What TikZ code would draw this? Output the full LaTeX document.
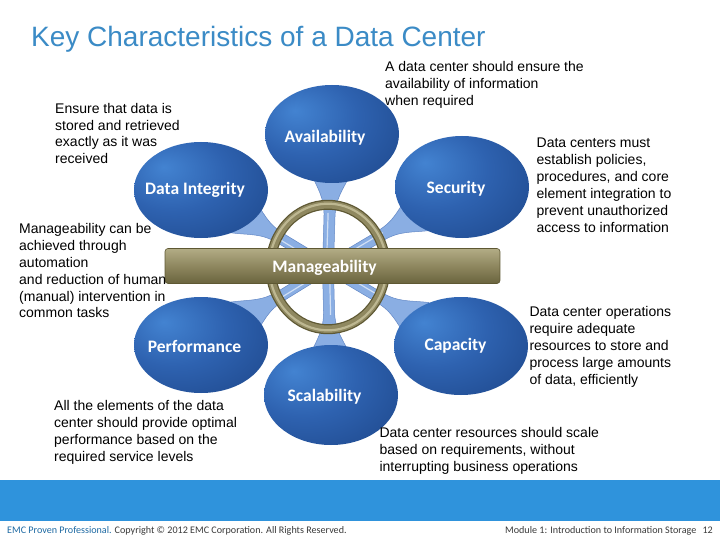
\documentclass[tikz,border=0pt]{standalone}
\usepackage{fontspec}
\setmainfont{Liberation Sans}
\newfontfamily\calib{Carlito}
\usetikzlibrary{shapes.geometric,calc}
\definecolor{titleblue}{HTML}{3B8BC6}
\definecolor{barblue}{HTML}{2F93DC}
\definecolor{emcblue}{HTML}{1E6AA3}
\definecolor{footgray}{HTML}{3A3A3A}
\definecolor{spokefill}{HTML}{8AAEE3}
\definecolor{spokeline}{HTML}{6388C6}
\definecolor{ringdark}{HTML}{5E5833}
\definecolor{ringmid}{HTML}{8F8860}
\definecolor{ringlight}{HTML}{BDB791}
\definecolor{bartop}{HTML}{B2AC85}
\definecolor{barmid}{HTML}{8E875F}
\definecolor{barbot}{HTML}{6A643E}
\definecolor{blA}{HTML}{4383D1}
\definecolor{blB}{HTML}{2E62B0}
\definecolor{blC}{HTML}{1D4689}
\definecolor{blD}{HTML}{153571}
\pgfdeclareradialshading{bubshade}{\pgfpoint{-14bp}{12bp}}{color(0bp)=(blA); color(20bp)=(blB); color(45bp)=(blC); color(62bp)=(blD); color(80bp)=(blD)}
\tikzset{
  bubble/.style={ellipse, shading=bubshade, minimum width=134pt, minimum height=98pt, inner sep=0pt},
  bublabel/.style={font=\calib\bfseries\fontsize{17.5}{20}\selectfont, text=white, inner sep=0pt},
  desc/.style={font=\fontsize{14}{16.9}\selectfont, align=left, anchor=north west, inner sep=0pt, text=black},
  spoke/.style={fill=spokefill, draw=spokeline, line width=0.5pt},
  foot/.style={inner sep=0pt, font=\calib\fontsize{10.1}{12}\selectfont, text=footgray},
}
\newcommand{\spokeshape}[3]{%
  \begin{scope}[shift={(hub)}, rotate=#1]
    \filldraw[spoke] (0,-5.5) -- ({#3-34},-5.5) .. controls ({#3-14},-5.5) and ({#3-6},-13) .. ({#3+12},-21)
      -- ({#3+12},21) .. controls ({#3-6},13) and ({#3-14},5.5) .. ({#3-34},5.5) -- (0,5.5) -- cycle;
    \draw[white!60!spokefill, line width=1.2pt] (2,-1.5) -- ({#3-30},-1.5);
  \end{scope}}
\begin{document}
\begin{tikzpicture}[x=1pt,y=-1pt]
\useasboundingbox (0,0) rectangle (720,540);
\fill[white] (0,0) rectangle (720,540);

% title
\node[anchor=base west, inner sep=0pt, text=titleblue, font=\fontsize{28}{32}\selectfont] (title) at (31,47) {Key Characteristics of a Data Center};

% hub
\coordinate (hub) at (328,267);

% spokes
\spokeshape{88.3}{133}{84}
\spokeshape{30.8}{156}{94.6}
\spokeshape{148.8}{148.5}{88.7}
\spokeshape{211.6}{149}{89}
\spokeshape{329.3}{154.7}{93}
\spokeshape{271.3}{128}{78}

% ring
\draw[ringdark, line width=10pt] (hub) ellipse [x radius=57.5, y radius=62.2];
\draw[ringmid, line width=7.5pt] (hub) ellipse [x radius=57.5, y radius=62.2];
\draw[ringlight, line width=2.2pt] (hub) ellipse [x radius=58.6, y radius=63.3];

% bar
\node[draw=ringdark, line width=0.6pt, rounded corners=3pt, top color=bartop, bottom color=barbot, middle color=barmid,
      minimum width=335pt, minimum height=35pt, inner sep=0pt] (bar) at (332.5,266) {};
\node[bublabel] (mlabel) at (324.5,268) {Manageability};

% bubbles
\node[bubble] (avail) at (332,134) {};
\node[bublabel] at (325,138) {Availability};
\node[bubble, minimum height=102pt] (secur) at (462,187) {};
\node[bublabel] at (456,189) {Security};
\node[bubble, minimum height=96pt] (integ) at (201,190) {};
\node[bublabel] at (195,190) {Data Integrity};
\node[bubble, minimum height=96pt] (perf) at (201,345) {};
\node[bublabel] at (194.5,346) {Performance};
\node[bubble] (capac) at (461,346) {};
\node[bublabel] at (455.5,346) {Capacity};
\node[bubble, minimum height=100pt] (scal) at (331,395) {};
\node[bublabel] at (324.5,397) {Scalability};

% descriptions
\node[desc] (tinteg) at (55,102.8) {Ensure that data is\\stored and retrieved\\exactly as it was\\received};
\node[desc] (tmanage) at (19,223.1) {Manageability can be\\achieved through\\automation\\and reduction of human\\(manual) intervention in\\common tasks};
\node[desc] (tavail) at (385,61.5) {A data center should ensure the\\availability of information\\when required};
\node[desc] (tsecur) at (536.5,138.1) {Data centers must\\establish policies,\\procedures, and core\\element integration to\\prevent unauthorized\\access to information};
\node[desc] (tcapac) at (529.3,306.5) {Data center operations\\require adequate\\resources to store and\\process large amounts\\of data, efficiently};
\node[desc] (tscal) at (379.3,427.5) {Data center resources should scale\\based on requirements, without\\interrupting business operations};
\node[desc] (tperf) at (54,400.5) {All the elements of the data\\center should provide optimal\\performance based on the\\required service levels};

% footer
\fill[barblue] (0,480) rectangle (720,521);
\node[foot, anchor=base west] (fleft) at (7,533)
  {\textcolor{emcblue}{EMC Proven Professional.} Copyright © 2012 EMC Corporation. All Rights Reserved.};
\node[foot, anchor=base west] (fright) at (505,533)
  {Module 1: Introduction to Information Storage};
\node[foot, anchor=base east] (fpage) at (713,533) {12};
\end{tikzpicture}
\end{document}
